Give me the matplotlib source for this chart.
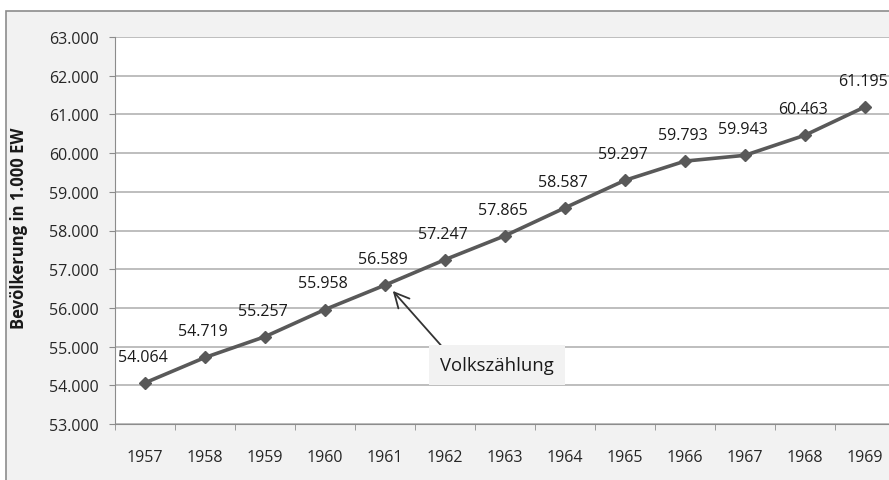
import matplotlib.pyplot as plt
from matplotlib.patches import Rectangle

years = [1957, 1958, 1959, 1960, 1961, 1962, 1963, 1964, 1965, 1966, 1967, 1968, 1969]
population = [54.064, 54.719, 55.257, 55.958, 56.589, 57.247, 57.865,
              58.587, 59.297, 59.793, 59.943, 60.463, 61.195]
yticks = [53, 54, 55, 56, 57, 58, 59, 60, 61, 62, 63]
census_year = 1961

plt.rcParams['font.family'] = ['Open Sans', 'DejaVu Sans']

W, H = 889, 481
fig = plt.figure(figsize=(W / 100, H / 100), dpi=100)
fig.patch.set_facecolor('white')

# outer chart frame (light gray)
frame = Rectangle((6 / W, -0.05), 1.0, 1 - 12 / H + 0.05, transform=fig.transFigure,
                  facecolor='#f2f2f2', edgecolor='#8c8c8c', linewidth=1.2, zorder=-10)
fig.patches.append(frame)

ax = fig.add_axes([115 / W, 1 - 425 / H, 780 / W, 387 / H])
ax.set_zorder(5)
ax.set_facecolor('white')

x = list(range(len(years)))
ax.plot(x, population, color='#595959', linewidth=2.6, marker='D', markersize=6.5,
        markerfacecolor='#595959', markeredgecolor='#595959', zorder=3)

for xi, v in zip(x, population):
    ax.annotate(f'{v:.3f}', (xi, v), xytext=(-1.5, 13), textcoords='offset points',
                ha='center', va='bottom', fontsize=11.5, color='#1a1a1a')

ax.set_xlim(-0.5, len(years) - 0.5)
ax.set_ylim(53, 63)
ax.set_yticks(yticks)
ax.set_yticklabels([f'{t}.000' for t in yticks])
ax.set_xticks(x)
ax.set_xticklabels([str(y) for y in years])
ax.set_xticks([i - 0.5 for i in range(len(years) + 1)], minor=True)

ax.grid(axis='y', color='#b3b3b3', linewidth=1.2)
ax.set_axisbelow(True)
for s in ['top', 'right']:
    ax.spines[s].set_visible(False)
ax.spines['left'].set_color('#8c8c8c')
ax.spines['bottom'].set_color('#8c8c8c')
ax.tick_params(axis='y', length=4.5, color='#8c8c8c', labelsize=11.5, labelcolor='#262626', pad=7)
ax.tick_params(axis='x', which='major', length=0, labelsize=11.5, labelcolor='#262626', pad=18)
ax.tick_params(axis='x', which='minor', length=4.5, color='#8c8c8c')

ax.set_ylabel('Bevölkerung in 1.000 EW', fontsize=12, fontweight='bold', color='#1a1a1a')
ax.yaxis.set_label_coords(-0.112, 0.509)

ci = years.index(census_year)
ax.annotate('Volkszählung', xy=(ci + 0.13, population[ci] - 0.15), xytext=(5.87, 54.52),
            ha='center', va='center', fontsize=13.3, color='#1a1a1a',
            bbox=dict(boxstyle='square,pad=0.6', facecolor='#f2f2f2', edgecolor='none'),
            arrowprops=dict(arrowstyle='->,head_length=0.8,head_width=0.4', color='#333333',
                            linewidth=1.3, shrinkA=0, shrinkB=0, relpos=(0.09, 1.0)))

fig.savefig('out.png', dpi=100)
